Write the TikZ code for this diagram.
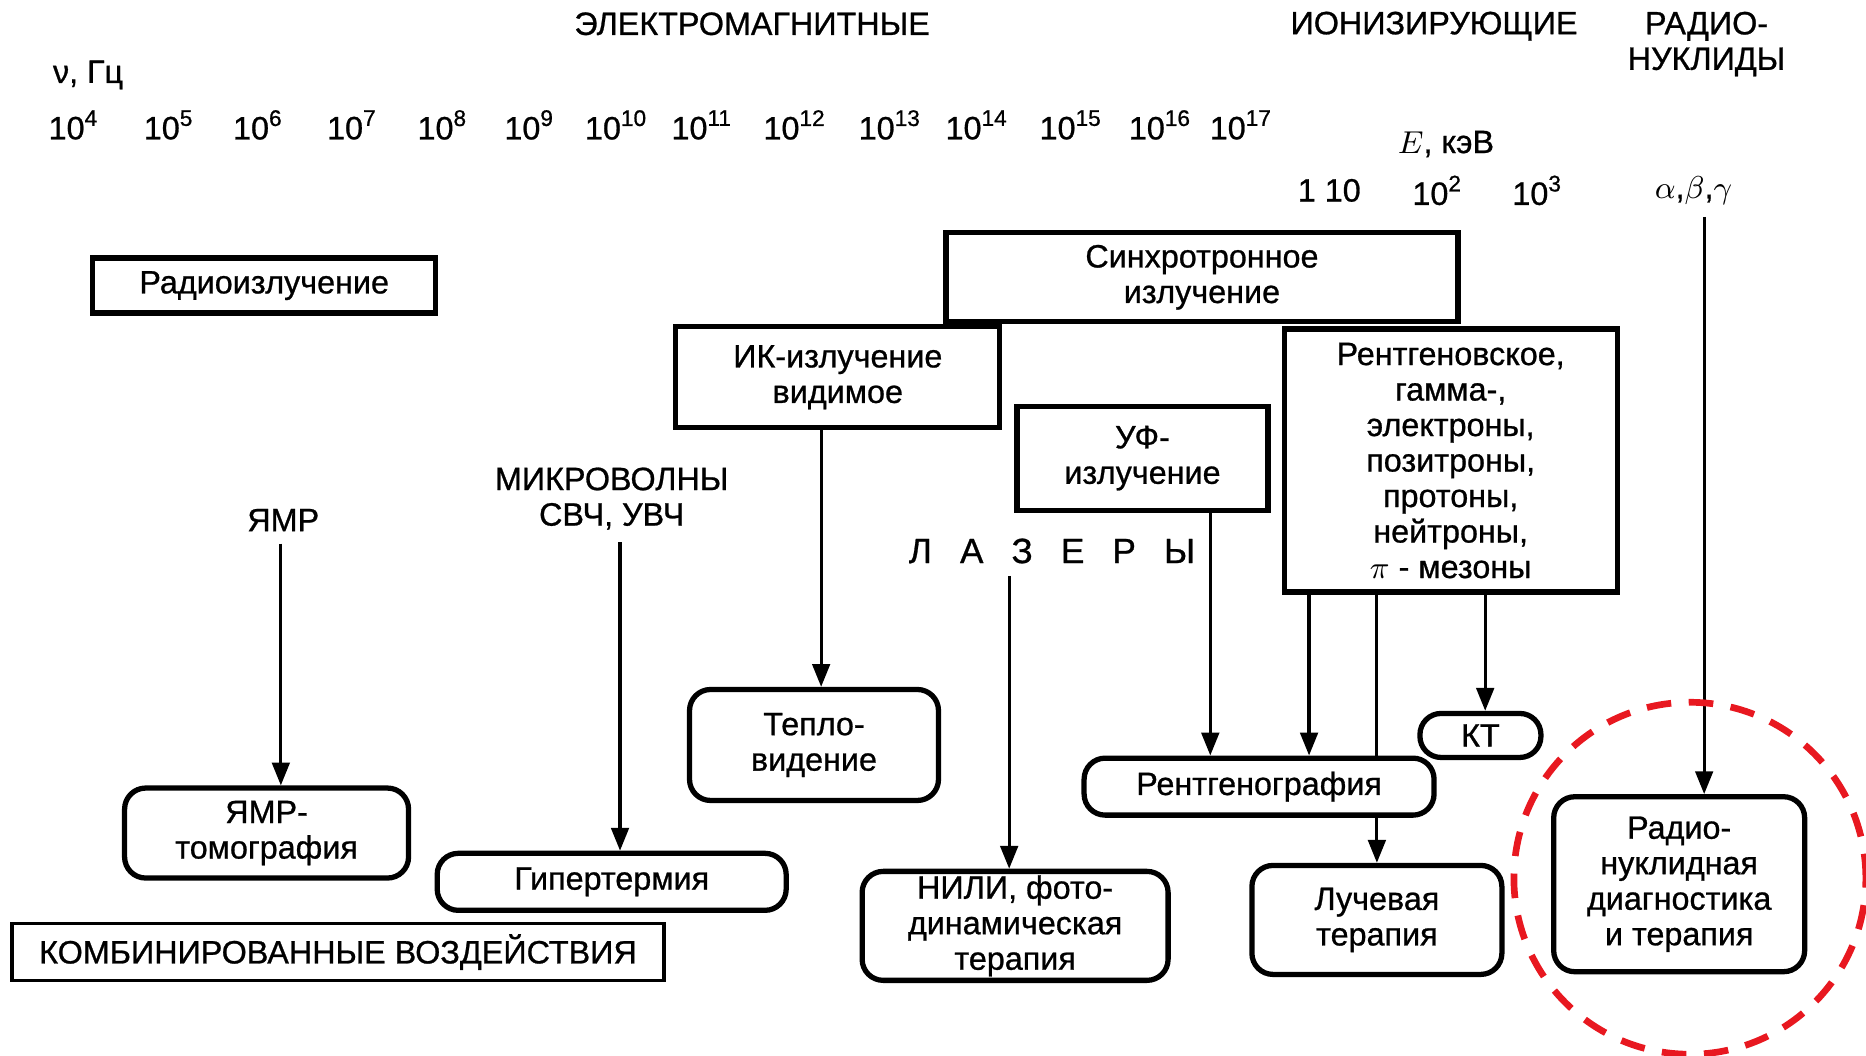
\documentclass[tikz,border=0pt]{standalone}
\usepackage{fontspec}
\setmainfont{Liberation Sans}[FakeBold=0.8]
\usetikzlibrary{arrows.meta}

\definecolor{ringred}{RGB}{232,24,32}

\tikzset{
    source/.style={draw=black, line width=1.5pt, align=center, inner sep=1pt},
    method/.style={source, rounded corners=6pt},
    feed/.style={-{Triangle[length=6.5pt, width=5pt]}, line width=0.9pt, black},
    wire/.style={line width=0.9pt, black},
}
\newcommand{\spacedword}{Л\hspace{8pt}А\hspace{8pt}З\hspace{8pt}Е\hspace{8pt}Р\hspace{8pt}Ы}

\begin{document}
\begin{tikzpicture}[x=0.0119cm, y=-0.0119cm, font=\fontsize{9.2}{10.1}\selectfont]
    \useasboundingbox (0,0) rectangle (1568,887);

    % headings and scales
    \node (em) at (632,20) {ЭЛЕКТРОМАГНИТНЫЕ};
    \node (ion) at (1205,22) {ИОНИЗИРУЮЩИЕ};
    \node[align=center] (nucl) at (1434,37) {РАДИО-\\НУКЛИДЫ};
    \node (nu) at (74,63) {ν, Гц};
    \foreach \e/\x in {4/62, 5/142, 6/217, 7/296, 8/372, 9/445, 10/518, 11/590, 12/668, 13/748, 14/821, 15/900, 16/975, 17/1043}
        \node (f\e) at (\x,105) {10\textsuperscript{\e}};
    \node (en) at (1215,121) {$E$, кэВ};
    \node (e1) at (1117,160) {1 10};
    \node (e2) at (1208,160) {10\textsuperscript{2}};
    \node (e3) at (1292,160) {10\textsuperscript{3}};
    \node (abg) at (1423,160) {$\alpha$,$\beta$,$\gamma$};

    % kinds of radiation
    \node[source, minimum width=3.43cm, minimum height=0.55cm] (radio) at (222,240) {Радиоизлучение};
    \node[source, minimum width=5.12cm, minimum height=0.89cm] (sync) at (1010,233) {Синхротронное\\излучение};
    \node[source, minimum width=3.24cm, minimum height=1.01cm] (ik) at (704,317) {ИК-излучение\\видимое};
    \node[source, minimum width=2.51cm, minimum height=1.04cm] (uv) at (960,385) {УФ-\\излучение};
    \node[source, minimum width=3.33cm, minimum height=2.63cm] (xray) at (1219,387) {Рентгеновское,\\гамма-,\\электроны,\\позитроны,\\протоны,\\нейтроны,\\$\pi$ - мезоны};
    \node (nmr) at (238,437) {ЯМР};
    \node[align=center] (mw) at (514,419) {МИКРОВОЛНЫ\\СВЧ, УВЧ};
    \node[font=\fontsize{10}{11}\selectfont] (laser) at (884,463) {\spacedword};

    % methods
    \node[method, minimum width=2.84cm, minimum height=0.90cm] (nmrt) at (224,700) {ЯМР-\\томография};
    \node[method, minimum width=3.49cm, minimum height=0.57cm] (hyper) at (514,741) {Гипертермия};
    \node[method, minimum width=2.49cm, minimum height=1.11cm] (teplo) at (684,626) {Тепло-\\видение};
    \node[method, minimum width=3.06cm, minimum height=1.09cm] (nili) at (853,778) {НИЛИ, фото-\\динамическая\\терапия};
    \node[method, minimum width=3.50cm, minimum height=0.57cm] (xgraph) at (1058,661) {Рентгенография};
    \node[method, minimum width=1.21cm, minimum height=0.44cm] (ct) at (1244,618) {КТ};
    \node[method, minimum width=2.50cm, minimum height=1.09cm] (ray) at (1157,773) {Лучевая\\терапия};
    \node[method, minimum width=2.51cm, minimum height=1.75cm] (rnd) at (1411,743) {Радио-\\нуклидная\\диагностика\\и терапия};
    \node[source, line width=1pt, minimum width=6.52cm, minimum height=0.57cm] (combo) at (284,800) {КОМБИНИРОВАННЫЕ ВОЗДЕЙСТВИЯ};

    % connectors
    \foreach \n/\x in {c1/236, c2/521, c3/690, c4/848, c5/1017, c6/1100, c7/1157, c8/1248, c9/1432}
        \coordinate (\n) at (\x,0);
    \draw[feed] (nmr.south -| c1) -- (nmrt.north -| c1);
    \draw[feed] (mw.south -| c2) -- (hyper.north -| c2);
    \draw[feed] (ik.south -| c3) -- (teplo.north -| c3);
    \draw[feed] (laser.south -| c4) -- (nili.north -| c4);
    \draw[feed] (uv.south -| c5) -- (xgraph.north -| c5);
    \draw[feed] (xray.south -| c6) -- (xgraph.north -| c6);
    \draw[wire] (xray.south -| c7) -- (xgraph.north -| c7);
    \draw[feed] (xgraph.south -| c7) -- (ray.north -| c7);
    \draw[feed] (xray.south -| c8) -- (ct.north -| c8);
    \draw[feed] (abg.south -| c9) -- (rnd.north -| c9);

    % highlight
    \draw[ringred, line width=1.9pt, dash pattern=on 7pt off 5pt] (1420,738) circle[radius=1.76cm];

\end{tikzpicture}
\end{document}
